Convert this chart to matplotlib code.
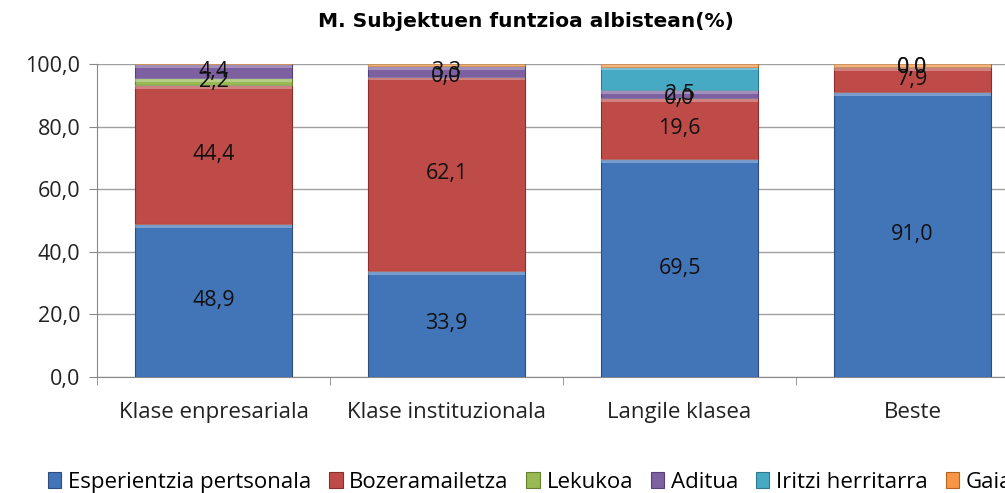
import numpy as np
import matplotlib
matplotlib.use('Agg')
from matplotlib import pyplot as plt

# categories and series (percent)
categories = ['Klase enpresariala', 'Klase instituzionala', 'Langile klasea', 'Beste']
series_names = ['Esperientzia pertsonala', 'Bozeramailetza', 'Lekukoa', 'Aditua',
                'Iritzi herritarra', 'Gaia']
esperientzia = [48.9, 33.9, 69.5, 91.0]
bozeramailetza = [44.4, 62.1, 19.6, 7.9]
lekukoa = [2.2, 0.0, 0.0, 0.0]
aditua = [4.4, 3.3, 2.5, 0.0]
iritzi = [0.0, 0.0, 7.6, 0.0]
gaia = [0.0, 0.7, 0.8, 1.1]
y_ticks = [0, 20, 40, 60, 80, 100]

values = [esperientzia, bozeramailetza, lekukoa, aditua, iritzi, gaia]
colors = ['#4175B8', '#BE4B48', '#98B954', '#7D60A0', '#46AAC5', '#F79646']
edges = ['#2C4D7D', '#8C2D2B', '#66802F', '#55407A', '#2B7A90', '#B4641E']
# only the first four series carry data labels in the original
labelled = [True, True, True, True, False, False]

font = 'Open Sans'

fig = plt.figure(figsize=(10.05, 4.93), dpi=100)
ax = fig.add_axes([97 / 1005, 116 / 493, 932 / 1005, 313 / 493])

x = np.arange(len(categories))
bottom = np.zeros(len(categories))
for vals, name, col, ec, lab in zip(values, series_names, colors, edges, labelled):
    vals = np.array(vals)
    ax.bar(x, vals, width=0.67, bottom=bottom, color=col, edgecolor=ec,
           linewidth=0.8, label=name, zorder=3)
    # lighter strip on top of each segment, a rough take on the bevel look
    strip = np.minimum(vals, 1.2)
    ax.bar(x, strip, width=0.67, bottom=bottom + vals - strip,
           color='white', alpha=0.3, linewidth=0, zorder=4)
    if lab:
        for xi, b, v in zip(x, bottom, vals):
            ax.text(xi, b + v / 2, f'{v:.1f}'.replace('.', ','), ha='center', va='center',
                    fontsize=15.5, family=font, color='#111111', zorder=5)
    bottom += vals

ax.set_xlim(-0.5, len(categories) - 0.5)
ax.set_ylim(0, 100)
ax.set_yticks(y_ticks)
ax.set_yticklabels([f'{t:.1f}'.replace('.', ',') for t in y_ticks], fontsize=15.5,
                   family=font, color='#222222')
ax.yaxis.grid(True, color='#A0A0A0', linewidth=1, zorder=0)
ax.set_axisbelow(True)
ax.set_xticks(x)
ax.set_xticklabels(categories, fontsize=16, family=font, color='#222222')
ax.set_xticks(np.arange(len(categories) + 1) - 0.5, minor=True)
ax.tick_params(axis='x', which='major', length=0, pad=18)
ax.tick_params(axis='x', which='minor', length=6, color='#888888')
ax.tick_params(axis='y', length=6, color='#888888', pad=6)
for s in ['top', 'right']:
    ax.spines[s].set_visible(False)
for s in ['left', 'bottom']:
    ax.spines[s].set_color('#888888')

fig.text(0.523, 0.957, 'M. Subjektuen funtzioa albistean(%)', ha='center', va='center',
         fontsize=14.5, fontweight='bold', family='DejaVu Sans')

fig.legend(loc='center left', bbox_to_anchor=(0.028, 0.022), ncol=6, frameon=False,
           prop={'family': font, 'size': 16}, handlelength=0.6,
           handleheight=0.7, handletextpad=0.3, columnspacing=0.8)

fig.savefig('out.png', dpi=100)
